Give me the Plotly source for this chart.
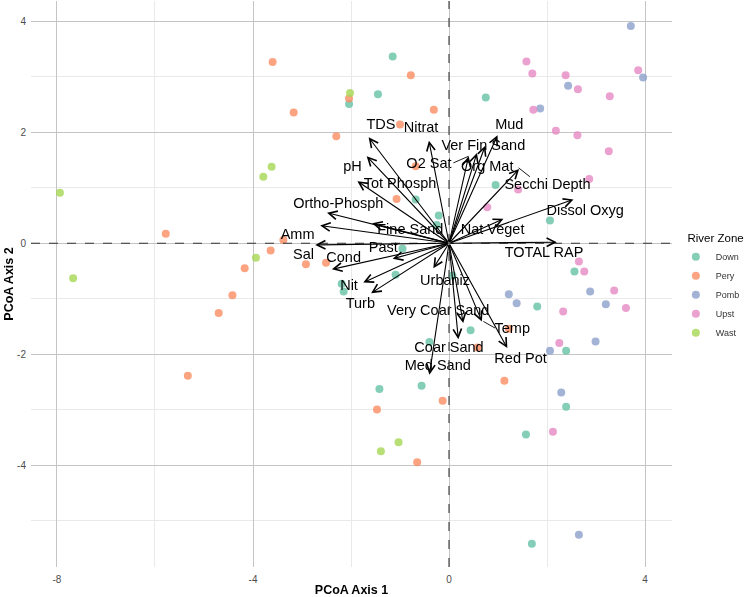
import plotly.graph_objects as go

# ---------------- data ----------------
zones = ["Down", "Pery", "Pomb", "Upst", "Wast"]
zone_colors = ["#66C2A5", "#FC8D62", "#8DA0CB", "#E78AC3", "#A6D854"]

down_x = [-2.04, -1.15, -1.45, -1.09, -2.19, -2.15, -1.42, 0.75, 0.95, 2.06, -0.68, -0.21,
          -0.25, -0.95, 2.56, 0.07, 1.80, 0.44, -0.40, 2.39, -0.56, 2.39, 1.57, 1.69]
down_y = [2.51, 3.37, 2.69, -0.57, -0.73, -0.87, -2.63, 2.63, 1.05, 0.41, 0.79, 0.50,
          0.33, -0.10, -0.51, -0.58, -1.14, -1.57, -1.78, -1.94, -2.57, -2.95, -3.45, -5.42]

pery_x = [-5.78, -3.60, -3.17, -2.04, -2.30, -1.07, -3.38, -3.64, -4.17, -2.92, -2.51, -4.42,
          -1.00, -4.70, -5.33, -1.47, -0.78, -0.31, -0.68, 1.22, 0.58, 1.13, -0.13, -0.65]
pery_y = [0.17, 3.27, 2.36, 2.61, 1.93, 0.80, 0.06, -0.13, -0.45, -0.38, -0.35, -0.94,
          2.14, -1.26, -2.39, -3.00, 3.03, 2.41, 1.39, -1.54, -1.88, -2.48, -2.84, -3.95]

pomb_x = [3.71, 3.96, 2.43, 1.86, 1.22, 2.88, 1.38, 3.20, 2.99, 2.06, 2.29, 2.65]
pomb_y = [3.92, 2.99, 2.84, 2.43, -0.92, -0.87, -1.08, -1.10, -1.77, -1.94, -2.69, -5.26]

upst_x = [1.58, 1.70, 2.38, 3.86, 2.63, 3.28, 1.72, 2.18, 2.62, 3.26, 2.86, 1.41, 0.78,
          2.65, 2.76, 3.37, 2.33, 3.61, 2.25, 2.12]
upst_y = [3.28, 3.06, 3.03, 3.12, 2.78, 2.65, 2.41, 2.03, 1.95, 1.66, 1.16, 0.97, 0.65,
          -0.33, -0.51, -0.85, -1.23, -1.17, -1.80, -3.40]

wast_x = [-7.94, -7.67, -2.02, -3.62, -3.79, -3.94, -1.39, -1.03]
wast_y = [0.91, -0.63, 2.71, 1.38, 1.20, -0.26, -3.75, -3.59]

zone_x = [down_x, pery_x, pomb_x, upst_x, wast_x]
zone_y = [down_y, pery_y, pomb_y, upst_y, wast_y]

# environmental vectors (arrow tips) and label positions
vec_names = ["TDS", "Nitrat", "pH", "Tot Phosph", "Ortho-Phosph", "Amm", "Sal", "Fine Sand",
             "Past", "Cond", "Nit", "Turb", "Urbaniz", "Med Sand", "Coar Sand",
             "Very Coar Sand", "Temp", "Red Pot", "TOTAL RAP", "Nat Veget", "Dissol Oxyg",
             "Secchi Depth", "Org Mat", "O2 Sat", "Ver Fin Sand", "Mud"]
vec_x = [-1.64, -0.41, -1.68, -1.87, -2.49, -2.63, -2.73, -1.57,
         -1.15, -2.39, -1.75, -1.59, -0.32, -0.40, 0.19,
         0.29, 0.67, 1.19, 2.20, 1.11, 2.54,
         1.43, 0.57, 0.40, 0.74, 0.99]
vec_y = [1.91, 1.85, 1.57, 1.12, 0.55, 0.32, -0.03, 0.36,
         -0.28, -0.47, -0.71, -0.90, -0.45, -2.37, -1.73,
         -1.44, -1.41, -1.89, 0.02, 0.44, 0.79,
         1.34, 1.63, 1.57, 1.76, 1.95]
lab_x = [-1.39, -0.57, -1.97, -1.00, -2.26, -3.09, -2.97, -0.79,
         -1.34, -2.15, -2.04, -1.81, -0.08, -0.23, 0.00,
         -0.22, 1.29, 1.46, 1.94, 0.89, 2.78,
         2.01, 0.78, -0.41, 0.70, 1.23]
lab_y = [2.12, 2.08, 1.37, 1.06, 0.71, 0.15, -0.21, 0.23,
         -0.10, -0.27, -0.77, -1.11, -0.69, -2.22, -1.89,
         -1.23, -1.56, -2.09, -0.18, 0.23, 0.57,
         1.04, 1.37, 1.43, 1.75, 2.13]

# label connector segments (repelled labels): start -> end
conn_x0 = [0.09, 1.42, 0.70]
conn_y0 = [1.45, 1.36, -1.41]
conn_x1 = [0.40, 1.65, 0.94]
conn_y1 = [1.57, 1.20, -1.53]

x_ticks = [-8, -4, 0, 4]
y_ticks = [-4, -2, 0, 2, 4]

FONT = "Liberation Sans, Arial, Helvetica, sans-serif"

fig = go.Figure()

for name, col, xs, ys in zip(zones, zone_colors, zone_x, zone_y):
    fig.add_trace(go.Scatter(
        x=xs, y=ys, mode="markers", name=name,
        marker=dict(color=col, size=8, line=dict(width=0)),
        opacity=0.8,
    ))

# connector segments
seg_x, seg_y = [], []
for a, b, c, d in zip(conn_x0, conn_y0, conn_x1, conn_y1):
    seg_x += [a, c, None]
    seg_y += [b, d, None]
fig.add_trace(go.Scatter(
    x=seg_x, y=seg_y, mode="lines", showlegend=False, hoverinfo="skip",
    line=dict(color="black", width=0.9),
))

# vector labels
fig.add_trace(go.Scatter(
    x=lab_x, y=lab_y, mode="text", text=vec_names, showlegend=False,
    textfont=dict(family=FONT, size=14.5, color="black"), hoverinfo="skip",
))

# arrows
for vx, vy in zip(vec_x, vec_y):
    fig.add_annotation(
        x=vx, y=vy, ax=0, ay=0, xref="x", yref="y", axref="x", ayref="y",
        text="", showarrow=True, arrowhead=5, arrowsize=1.5, arrowwidth=1.1,
        arrowcolor="black", standoff=0, startstandoff=0,
    )

# dashed reference lines
fig.add_hline(y=0, line=dict(color="#333333", width=1.2, dash="dash"), layer="above")
fig.add_vline(x=0, line=dict(color="#444444", width=1.2, dash="dash"), layer="above")

fig.update_layout(
    width=746, height=597,
    margin=dict(l=31, r=74, t=1, b=30, autoexpand=False),
    plot_bgcolor="white", paper_bgcolor="white",
    font=dict(family=FONT, color="black"),
    legend=dict(
        title=dict(text="\u00a0\u00a0\u00a0River Zone", font=dict(size=11.5, color="black")),
        font=dict(size=9, color="#333333"),
        x=1.006, xanchor="left", y=0.6, yanchor="top",
        itemsizing="trace", bgcolor="rgba(0,0,0,0)",
    ),
    showlegend=True,
)
fig.update_xaxes(
    range=[-8.53, 4.55], tickmode="array", tickvals=x_ticks,
    ticktext=[str(v) for v in x_ticks], automargin=False,
    showgrid=True, gridcolor="#c4c4c4", gridwidth=1,
    minor=dict(dtick=2, tick0=0, showgrid=True, gridcolor="#e9e9e9", gridwidth=0.8),
    zeroline=False, showline=False, ticks="", ticklabelstandoff=5,
    tickfont=dict(size=10, color="#4d4d4d"),
    title=dict(text="<b>PCoA Axis 1</b>", font=dict(size=12.5, color="black"), standoff=4),
)
fig.update_yaxes(
    range=[-5.84, 4.37], tickmode="array", tickvals=y_ticks,
    ticktext=[str(v) for v in y_ticks], automargin=False,
    showgrid=True, gridcolor="#c4c4c4", gridwidth=1,
    minor=dict(dtick=1, tick0=0, showgrid=True, gridcolor="#e9e9e9", gridwidth=0.8),
    zeroline=False, showline=False, ticks="", ticklabelstandoff=4,
    tickfont=dict(size=10, color="#4d4d4d"),
    title=dict(text="<b>PCoA Axis 2</b>", font=dict(size=12.5, color="black"), standoff=0),
)

fig.write_html("out.html")
